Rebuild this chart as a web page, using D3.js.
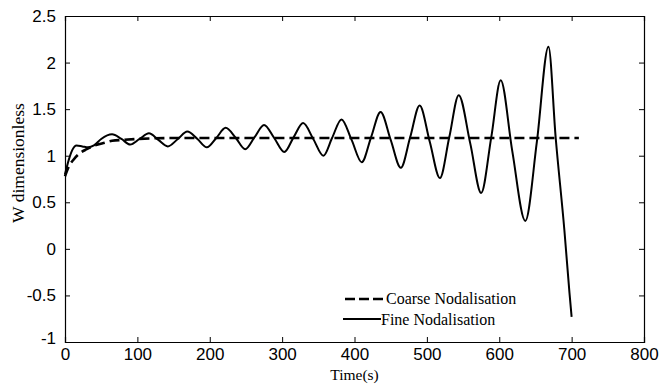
<!DOCTYPE html>
<html>
<head>
<meta charset="utf-8">
<script src="https://cdn.jsdelivr.net/npm/d3@7"></script>
<style>
  body { margin: 0; background: #fff; }
  svg { display: block; }
  .tick-label { font-family: 'Liberation Sans', Arial, sans-serif; font-size: 17px; fill: #000; }
  .serif { font-family: 'Liberation Serif', 'Times New Roman', serif; fill: #000; }
</style>
</head>
<body>
<svg width="660" height="385"></svg>
<script>
// fine nodalisation (time in s, W)
const fineTime = [0, 5, 10, 16, 24, 32, 40, 50, 65, 78, 90, 103, 116, 129, 142, 156, 169, 183, 196, 209,
  222, 236, 249, 262, 275, 289, 303, 316, 329, 343, 357, 369, 382, 396, 410, 423, 436, 450, 464, 477,
  490, 504, 518, 531, 544, 560, 575, 589, 602, 618, 636, 652, 668, 678, 690, 697, 700]
const fineW = [0.80, 0.95, 1.06, 1.11, 1.10, 1.09, 1.11, 1.18, 1.23, 1.18, 1.12, 1.18, 1.24, 1.17, 1.10, 1.18, 1.26, 1.18, 1.09, 1.19,
  1.30, 1.19, 1.07, 1.20, 1.33, 1.19, 1.04, 1.20, 1.35, 1.18, 1.00, 1.19, 1.39, 1.17, 0.93, 1.20, 1.47, 1.17, 0.87, 1.20,
  1.54, 1.15, 0.76, 1.20, 1.65, 1.13, 0.60, 1.20, 1.81, 1.05, 0.30, 1.15, 2.17, 1.19, 0.20, -0.47, -0.73]

// coarse nodalisation
const coarseTime = [0, 5, 12, 21, 30, 41, 55, 65, 80, 100, 150, 710]
const coarseW = [0.78, 0.88, 0.96, 1.03, 1.07, 1.11, 1.14, 1.16, 1.17, 1.18, 1.19, 1.19]

const xTicks = [0, 100, 200, 300, 400, 500, 600, 700, 800]
const yTicks = [-1, -0.5, 0, 0.5, 1, 1.5, 2, 2.5]

const margin = { top: 16, right: 16, bottom: 43, left: 65 }
const width = 660
const height = 385

const svg = d3.select('svg')

const x = d3.scaleLinear().domain([0, 800]).range([margin.left, width - margin.right])
const y = d3.scaleLinear().domain([-1, 2.5]).range([height - margin.bottom, margin.top])

const fine = fineTime.map((t, i) => ({ t, w: fineW[i] }))
const coarse = coarseTime.map((t, i) => ({ t, w: coarseW[i] }))

const line = d3.line()
  .x(d => x(d.t))
  .y(d => y(d.w))
  .curve(d3.curveMonotoneX)

// axes, ticks pointing inward like matlab
svg.append('g')
  .attr('transform', `translate(0,${y(-1)})`)
  .call(d3.axisBottom(x).tickValues(xTicks).tickSize(-5).tickPadding(6).tickFormat(d3.format('d')))
  .call(g => g.selectAll('text').attr('class', 'tick-label').attr('font-size', null).attr('font-family', null))

svg.append('g')
  .attr('transform', `translate(0,${y(2.5)})`)
  .call(d3.axisTop(x).tickValues(xTicks).tickSize(-5).tickFormat(''))

svg.append('g')
  .attr('transform', `translate(${x(0)},0)`)
  .call(d3.axisLeft(y).tickValues(yTicks).tickSize(-5).tickPadding(9).tickFormat(d => d))
  .call(g => g.selectAll('text').attr('class', 'tick-label').attr('font-size', null).attr('font-family', null))

svg.append('g')
  .attr('transform', `translate(${x(800)},0)`)
  .call(d3.axisRight(y).tickValues(yTicks).tickSize(-5).tickFormat(''))

svg.selectAll('.domain').attr('stroke', '#000').attr('stroke-width', 1.2)
svg.selectAll('.tick line').attr('stroke', '#000')

// nudge the -1 label up a bit so it clears the 0 at the corner
svg.selectAll('.tick text').filter(d => d === -1).attr('dy', '0.1em')

svg.append('path')
  .datum(coarse)
  .attr('fill', 'none')
  .attr('stroke', '#000')
  .attr('stroke-width', 2.6)
  .attr('stroke-dasharray', '10,5')
  .attr('d', line)

svg.append('path')
  .datum(fine)
  .attr('fill', 'none')
  .attr('stroke', '#000')
  .attr('stroke-width', 2)
  .attr('stroke-linejoin', 'round')
  .attr('d', line)

// axis titles
svg.append('text')
  .attr('class', 'serif')
  .attr('x', (x(0) + x(800)) / 2)
  .attr('y', 380)
  .attr('text-anchor', 'middle')
  .attr('font-size', 15.5)
  .text('Time(s)')

svg.append('text')
  .attr('class', 'serif')
  .attr('transform', 'translate(24,163) rotate(-90)')
  .attr('text-anchor', 'middle')
  .attr('font-size', 17.5)
  .text('W dimensionless')

// legend
const legend = svg.append('g')
legend.append('line')
  .attr('x1', 345).attr('x2', 383).attr('y1', 299).attr('y2', 299)
  .attr('stroke', '#000').attr('stroke-width', 2.4).attr('stroke-dasharray', '10,4')
legend.append('text')
  .attr('class', 'serif').attr('font-size', 16)
  .attr('x', 386).attr('y', 304)
  .text('Coarse Nodalisation')
legend.append('line')
  .attr('x1', 343).attr('x2', 381).attr('y1', 319).attr('y2', 319)
  .attr('stroke', '#000').attr('stroke-width', 2)
legend.append('text')
  .attr('class', 'serif').attr('font-size', 16)
  .attr('x', 381).attr('y', 325)
  .text('Fine Nodalisation')
</script>
</body>
</html>
